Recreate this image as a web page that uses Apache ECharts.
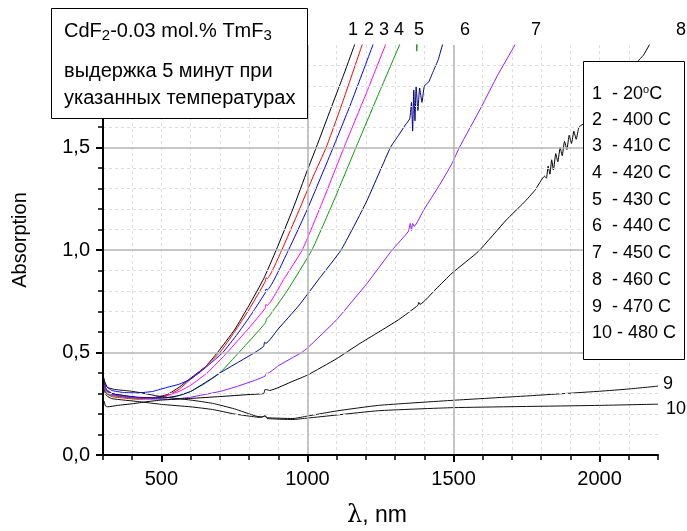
<!DOCTYPE html>
<html><head><meta charset="utf-8">
<script src="https://cdn.jsdelivr.net/npm/echarts@6/dist/echarts.min.js"></script>
<style>html,body{margin:0;padding:0;background:#fff}#c{width:687px;height:531px}</style>
</head><body><div id="c"></div>
<script>
// ---- data (wavelength nm, absorption) ----
const curve1 = [[300,0.36],[305,0.34],[312,0.315],[330,0.30],[370,0.29],[420,0.28],[470,0.28],[520,0.295],[560,0.33],[600,0.375],[650,0.43],[692,0.5],[750,0.61],[800,0.73],[850,0.86],[893,1.0],[950,1.2],[1000,1.39],[1030,1.5],[1080,1.69],[1120,1.84],[1161,2.0],[1175,2.06]];
const curve2 = [[300,0.34],[305,0.32],[312,0.30],[330,0.285],[370,0.278],[420,0.272],[470,0.275],[520,0.29],[560,0.32],[600,0.37],[650,0.43],[700,0.5],[750,0.6],[800,0.71],[855,0.845],[858,0.865],[862,0.86],[912,1.0],[970,1.19],[1020,1.36],[1064,1.5],[1120,1.72],[1187,2.0],[1200,2.05]];
const curve3 = [[300,0.39],[305,0.36],[312,0.335],[330,0.315],[370,0.305],[420,0.303],[470,0.31],[490,0.318],[520,0.33],[560,0.345],[600,0.37],[650,0.425],[710,0.5],[760,0.59],[800,0.67],[855,0.79],[858,0.81],[862,0.805],[935,1.0],[1000,1.2],[1050,1.37],[1088,1.5],[1150,1.72],[1224,2.0],[1240,2.06]];
const curve4 = [[300,0.35],[305,0.33],[312,0.31],[330,0.295],[370,0.285],[420,0.278],[470,0.278],[520,0.29],[560,0.31],[600,0.34],[660,0.405],[725,0.5],[800,0.62],[855,0.715],[858,0.735],[862,0.73],[920,0.86],[982,1.0],[1050,1.23],[1125,1.5],[1200,1.76],[1267,2.0],[1285,2.06]];
const curve5 = [[300,0.34],[305,0.32],[312,0.30],[330,0.29],[370,0.282],[420,0.276],[470,0.275],[520,0.28],[560,0.29],[600,0.31],[650,0.35],[700,0.40],[765,0.5],[810,0.57],[856,0.645],[860,0.665],[865,0.67],[930,0.8],[1015,1.0],[1090,1.24],[1166,1.5],[1240,1.75],[1315,2.0],[1325,2.04],[1370,2.1],[1374,1.97],[1377,2.1]];
const curve6 = [[300,0.37],[305,0.345],[312,0.32],[330,0.30],[370,0.29],[420,0.282],[470,0.278],[520,0.28],[560,0.29],[600,0.31],[664,0.366],[700,0.40],[760,0.45],[820,0.5],[850,0.53],[853,0.55],[858,0.545],[900,0.615],[971,0.73],[1040,0.86],[1115,1.0],[1200,1.23],[1284,1.5],[1312,1.56],[1335,1.61],[1350,1.64],[1356,1.72],[1360,1.58],[1364,1.78],[1368,1.63],[1372,1.8],[1378,1.68],[1384,1.79],[1392,1.72],[1400,1.8],[1415,1.82],[1430,1.87],[1448,1.93],[1462,2.0],[1475,2.05]];
const curve7 = [[300,0.36],[305,0.34],[312,0.315],[330,0.295],[370,0.285],[420,0.278],[470,0.273],[520,0.272],[560,0.275],[600,0.282],[700,0.31],[760,0.335],[823,0.366],[855,0.385],[858,0.40],[863,0.398],[900,0.435],[980,0.5],[1000,0.522],[1100,0.66],[1153,0.75],[1200,0.83],[1290,1.0],[1345,1.09],[1352,1.13],[1356,1.095],[1360,1.13],[1365,1.115],[1400,1.2],[1449,1.31],[1494,1.42],[1520,1.5],[1596,1.7],[1650,1.85],[1710,2.0],[1725,2.05]];
const curve8 = [[300,0.268],[304,0.262],[308,0.24],[316,0.235],[350,0.242],[400,0.25],[450,0.26],[500,0.268],[600,0.276],[700,0.285],[800,0.295],[850,0.30],[855,0.32],[862,0.318],[870,0.315],[950,0.36],[1000,0.39],[1100,0.47],[1175,0.54],[1244,0.60],[1312,0.66],[1378,0.73],[1381,0.745],[1385,0.735],[1440,0.81],[1495,0.887],[1585,0.993],[1681,1.147],[1740,1.23],[1778,1.29],[1812,1.36],[1818,1.35],[1824,1.41],[1830,1.37],[1836,1.44],[1842,1.39],[1850,1.47],[1857,1.43],[1865,1.5],[1872,1.46],[1880,1.53],[1888,1.49],[1896,1.56],[1904,1.52],[1912,1.58],[1920,1.54],[1930,1.6],[1960,1.63],[2000,1.7],[2050,1.79],[2100,1.87],[2130,1.92],[2150,1.95],[2170,2.0],[2185,2.04]];
const curve9 = [[300,0.39],[305,0.36],[315,0.33],[340,0.32],[403,0.31],[499,0.285],[600,0.268],[675,0.252],[750,0.225],[823,0.19],[845,0.186],[855,0.192],[862,0.182],[950,0.178],[1000,0.19],[1100,0.215],[1243,0.242],[1500,0.267],[1750,0.288],[2000,0.311],[2100,0.322],[2200,0.336]];
const curve10 = [[300,0.33],[305,0.31],[312,0.29],[330,0.275],[425,0.26],[500,0.247],[600,0.235],[675,0.222],[750,0.2],[814,0.187],[840,0.183],[855,0.19],[862,0.178],[950,0.173],[1000,0.18],[1100,0.195],[1243,0.216],[1500,0.231],[2000,0.242],[2200,0.248]];

const curves = [curve1, curve2, curve3, curve4, curve5, curve6, curve7, curve8, curve9, curve10];
const curveNames = ['1','2','3','4','5','6','7','8','9','10'];
const temperatures = ['20','400','410','420','430','440','450','460','470','480'];
const xMajorTicks = [500, 1000, 1500, 2000];
const xRange = [300, 2200];
const yRange = [0, 2.0];

// ---- styles ----
const colors = ['#000000','#ff0000','#0000ff','#ff00ff','#0a960a','#000080','#8c1aff','#000000','#111111','#111111'];
const FF = '"Liberation Sans", Arial, sans-serif';

const chart = echarts.init(document.getElementById('c'), null, {renderer: 'canvas'});

const series = curves.map((d, i) => ({
  name: curveNames[i],
  type: 'line',
  data: d,
  xAxisIndex: 0,
  yAxisIndex: 0,
  showSymbol: false,
  smooth: 0.15,
  clip: true,
  lineStyle: {color: colors[i], width: 1},
  itemStyle: {color: colors[i]},
  z: 3
}));

const graphics = [];
graphics.push({type: 'rect', z: 100, shape: {x: 51.5, y: 8.5, width: 256, height: 110},
  style: {fill: '#fff', stroke: '#000', lineWidth: 1}});
graphics.push({type: 'text', z: 101, left: 64, top: 21, style: {
  text: '{a|CdF}{s|2}{a|-0.03 mol.% TmF}{s|3}',
  rich: {a: {fontSize: 20, fontFamily: FF, lineHeight: 25, fill: '#000'},
         s: {fontSize: 15, fontFamily: FF, lineHeight: 15, verticalAlign: 'bottom', fill: '#000'}}
}});
graphics.push({type: 'text', z: 101, left: 64, top: 61, style: {text: 'выдержка 5 минут при', font: '20px ' + FF, fill: '#000'}});
graphics.push({type: 'text', z: 101, left: 64, top: 88, style: {text: 'указанных температурах', font: '20px ' + FF, fill: '#000'}});

graphics.push({type: 'rect', z: 100, shape: {x: 583.5, y: 61.5, width: 101, height: 298},
  style: {fill: '#fff', stroke: '#000', lineWidth: 1}});
temperatures.forEach((t, i) => {
  const num = curveNames[i];
  const pad = num.length === 1 ? '  ' : ' ';
  const txt = i === 0 ? `{a|${num}${pad}- ${t}}{s|o}{a|C}` : `{a|${num}${pad}- ${t} C}`;
  graphics.push({type: 'text', z: 101, left: 592, top: 84 + i * 26.7, style: {
    text: txt,
    rich: {a: {fontSize: 18, fontFamily: FF, lineHeight: 20, fill: '#000'},
           s: {fontSize: 11, fontFamily: FF, lineHeight: 11, verticalAlign: 'top', fill: '#000'}}
  }});
});

const topLabelX = [353, 369, 384, 399, 419, 465, 536, 681];
topLabelX.forEach((x, i) => {
  graphics.push({type: 'text', z: 50, x: x, y: 30, style: {text: curveNames[i], font: '18px ' + FF, fill: '#000', textAlign: 'center', textVerticalAlign: 'middle'}});
});
graphics.push({type: 'text', z: 50, x: 668, y: 384, style: {text: curveNames[8], font: '18px ' + FF, fill: '#000', textAlign: 'center', textVerticalAlign: 'middle'}});
graphics.push({type: 'text', z: 50, x: 676, y: 409, style: {text: curveNames[9], font: '18px ' + FF, fill: '#000', textAlign: 'center', textVerticalAlign: 'middle'}});
// axis titles
graphics.push({type: 'text', z: 50, x: 20, y: 240, rotation: Math.PI / 2, style: {text: 'Absorption', font: '20px ' + FF, fill: '#000', textAlign: 'center', textVerticalAlign: 'middle'}});
graphics.push({type: 'text', z: 50, x: 377, y: 516, style: {
  text: '{g|λ}{a|, nm}', textAlign: 'center', textVerticalAlign: 'middle',
  rich: {g: {fontSize: 24, fontFamily: '"DejaVu Serif", serif', fill: '#000'},
         a: {fontSize: 23, fontFamily: FF, fill: '#000'}}
}});

const option = {
  animation: false,
  backgroundColor: '#fff',
  grid: {left: 103, right: 29, top: 45, bottom: 76, containLabel: false},
  xAxis: [
    {
      type: 'value', min: xRange[0], max: xRange[1], position: 'bottom',
      axisLine: {show: true, onZero: false, lineStyle: {color: '#000', width: 2}},
      axisTick: {show: true, length: 7, customValues: xMajorTicks, lineStyle: {color: '#000', width: 2}},
      axisLabel: {show: true, customValues: xMajorTicks, margin: 14, fontSize: 20, fontFamily: FF, color: '#000',
        formatter: v => String(v)},
      splitLine: {show: true, showMinLine: false, showMaxLine: false, lineStyle: {color: '#b4b4b4', width: 1.5}},
      z: 5
    },
    {
      type: 'value', min: xRange[0], max: xRange[1], interval: 100, position: 'bottom', offset: 0,
      axisLine: {show: false, onZero: false},
      axisTick: {show: true, length: 5, lineStyle: {color: '#000', width: 1.5}},
      axisLabel: {show: false},
      splitLine: {show: true, showMinLine: false, showMaxLine: false, lineStyle: {color: '#dedede', width: 1, type: [3, 3]}},
      z: 1
    }
  ],
  yAxis: [{
    type: 'value', min: yRange[0], max: yRange[1], interval: 0.5,
    axisLine: {show: true, onZero: false, lineStyle: {color: '#000', width: 2}},
    axisTick: {show: true, length: 7, lineStyle: {color: '#000', width: 2}},
    minorTick: {show: true, splitNumber: 5, length: 5, lineStyle: {color: '#000', width: 1.5}},
    axisLabel: {margin: 13, fontSize: 20, fontFamily: FF, color: '#000',
      formatter: v => v.toFixed(1).replace('.', ',')},
    splitLine: {show: true, showMinLine: false, showMaxLine: false, lineStyle: {color: '#b4b4b4', width: 1.5}},
    minorSplitLine: {show: true, lineStyle: {color: '#dedede', width: 1, type: [3, 3]}},
    z: 5
  }],
  series: series,
  graphic: {elements: graphics}
};
chart.setOption(option);
</script>
</body></html>
